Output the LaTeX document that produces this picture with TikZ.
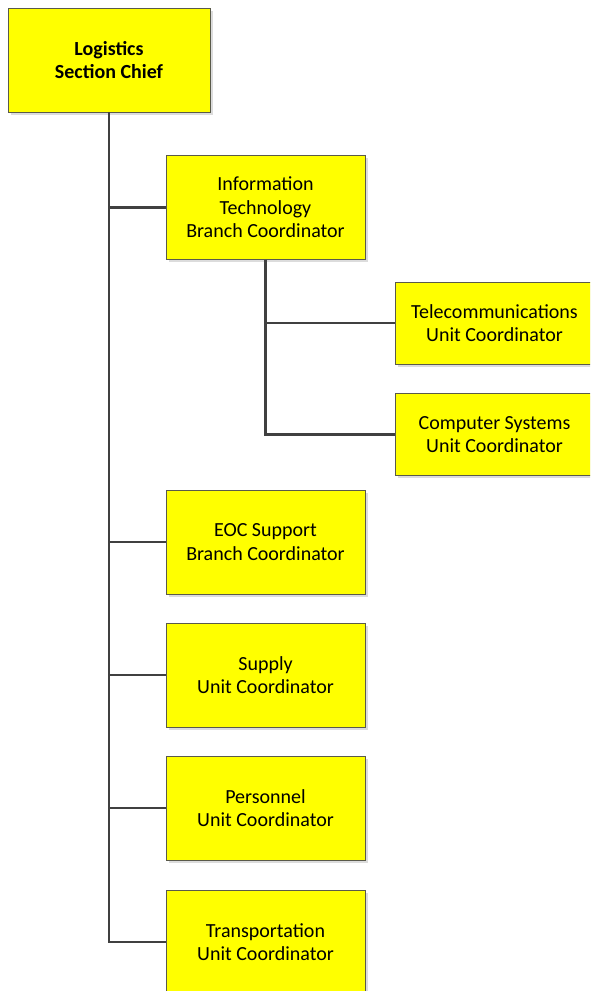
\documentclass[tikz,border=0pt]{standalone}
\usepackage{fontspec}
\setmainfont{Carlito}
\usepackage{xcolor}
\usepackage{tikz}
\usetikzlibrary{positioning, shadows}
\definecolor{boxyellow}{HTML}{FFFF00}
\definecolor{edgegray}{HTML}{5A5A4A}
\definecolor{linegray}{HTML}{404040}
\definecolor{shadowgray}{HTML}{DCDCDC}

\tikzset{
  orgbox/.style={draw=edgegray, line width=0.6pt, fill=boxyellow, align=center,
    minimum width=149.25pt, minimum height=78pt, inner sep=2pt,
    font=\fontsize{15pt}{17.6pt}\selectfont,
    drop shadow={shadow xshift=2.2pt, shadow yshift=-2.2pt, fill=shadowgray, opacity=1}},
  unitbox/.style={orgbox, minimum height=61.5pt},
  link/.style={draw=linegray, line width=1.9pt}
}

\begin{document}
\begin{tikzpicture}[x=0.75pt, y=-0.75pt]
  \useasboundingbox (0,0) rectangle (590,991);
  \clip (0,0) rectangle (590,991);

  \node[orgbox, minimum width=151.5pt, font=\fontsize{15pt}{17.6pt}\selectfont\bfseries] (chief) at (109,60)
    {Logistics\\Section Chief};

  \node[orgbox] (itbranch) at (265.5,207.5) {Information\\Technology\\Branch Coordinator};
  \node[unitbox] (telecom) at (494.5,323) {Telecommunications\\Unit Coordinator};
  \node[unitbox] (compsys) at (494.5,434.5) {Computer Systems\\Unit Coordinator};
  \node[orgbox] (eoc) at (265.5,542) {EOC Support\\Branch Coordinator};
  \node[orgbox] (supply) at (265.5,675) {Supply\\Unit Coordinator};
  \node[orgbox] (personnel) at (265.5,808) {Personnel\\Unit Coordinator};
  \node[orgbox] (transport) at (265.5,942) {Transportation\\Unit Coordinator};

  % chief to branches and units
  \foreach \sub in {itbranch, eoc, supply, personnel, transport}
    \draw[link] (chief.south) |- (\sub.west);

  % IT branch to its units
  \foreach \sub in {telecom, compsys}
    \draw[link] (itbranch.south) |- (\sub.west);
\end{tikzpicture}
\end{document}
